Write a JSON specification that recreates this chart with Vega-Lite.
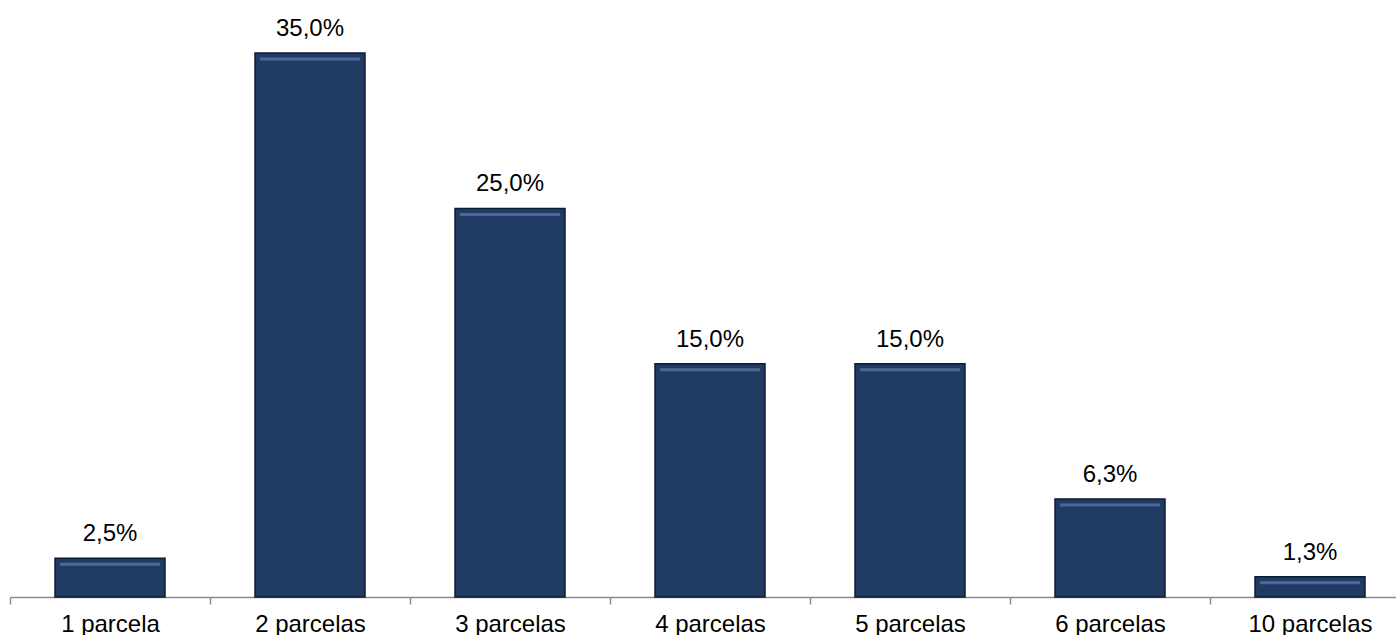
{
  "$schema": "https://vega.github.io/schema/vega-lite/v6.json",
  "autosize": "none",
  "padding": {"left": 10, "top": 53, "right": 0, "bottom": 38},
  "width": 1386,
  "height": 544,
  "background": "#ffffff",
  "config": {
    "locale": {"number": {"decimal": ",", "thousands": ".", "grouping": [3], "currency": ["R$", ""]}},
    "view": {"stroke": null},
    "font": "Liberation Sans"
  },
  "data": {
    "values": [
      {"parcelas": "1 parcela", "pct": 0.025},
      {"parcelas": "2 parcelas", "pct": 0.35},
      {"parcelas": "3 parcelas", "pct": 0.25},
      {"parcelas": "4 parcelas", "pct": 0.15},
      {"parcelas": "5 parcelas", "pct": 0.15},
      {"parcelas": "6 parcelas", "pct": 0.063},
      {"parcelas": "10 parcelas", "pct": 0.013}
    ]
  },
  "encoding": {
    "x": {
      "field": "parcelas",
      "type": "nominal",
      "sort": null,
      "scale": {"range": [0, 1400], "paddingInner": 0, "paddingOuter": 0},
      "axis": {
        "title": null,
        "labelAngle": 0,
        "labelFontSize": 24,
        "labelColor": "#000000",
        "labelFont": "Liberation Sans",
        "labelBaseline": "alphabetic",
        "labelPadding": 27,
        "tickBand": "extent",
        "tickSize": 7,
        "tickColor": "#8c8c8c",
        "domainColor": "#8c8c8c",
        "domainWidth": 1.5,
        "tickWidth": 1.5
      }
    },
    "y": {
      "field": "pct",
      "type": "quantitative",
      "scale": {"domain": [0, 0.35], "nice": false},
      "axis": null
    }
  },
  "layer": [
    {
      "mark": {"type": "bar", "width": {"band": 0.55}, "fill": "#1f3b63", "stroke": "#0c1d36", "strokeWidth": 1.5}
    },
    {
      "mark": {"type": "tick", "orient": "horizontal", "color": "#4f6f9b", "thickness": 3, "size": 100, "yOffset": 6, "opacity": 0.9}
    },
    {
      "mark": {"type": "text", "baseline": "alphabetic", "dy": -17, "fontSize": 24, "color": "#000000", "font": "Liberation Sans"},
      "encoding": {
        "text": {"field": "pct", "type": "quantitative", "format": ".1%"}
      }
    }
  ]
}
